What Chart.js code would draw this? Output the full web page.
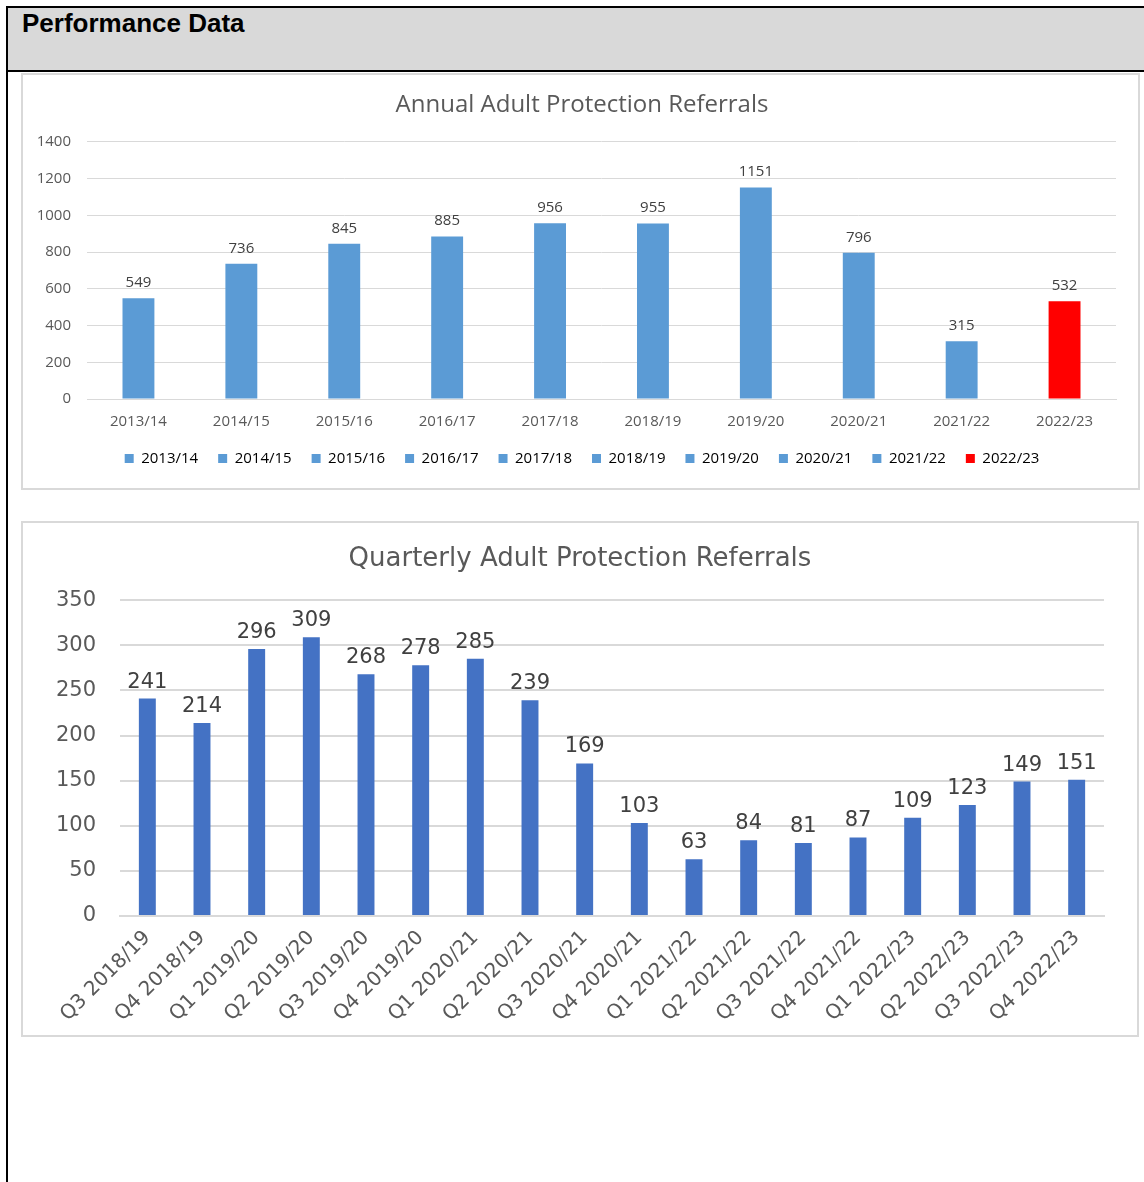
<!DOCTYPE html>
<html>
<head>
<meta charset="utf-8">
<script src="https://cdn.jsdelivr.net/npm/chart.js@4"></script>
<style>
  body { margin: 0; background: #fff; width: 1144px; height: 1182px; overflow: hidden; position: relative; }
  #frame { position: absolute; left: 6px; top: 6px; width: 1150px; height: 1190px; border-left: 2px solid #000; border-top: 2px solid #000; }
  #header { position: absolute; left: 8px; top: 8px; width: 1136px; height: 62px; background: #d9d9d9; border-bottom: 2px solid #000; }
  #header span { position: absolute; left: 14px; top: 0px; font: bold 26px "Liberation Sans", Arial, sans-serif; color: #000; }
  .box { position: absolute; border: 2px solid #d9d9d9; background: #fff; }
  #box1 { left: 21px; top: 73px; width: 1115px; height: 413px; }
  #box2 { left: 21px; top: 521px; width: 1114px; height: 512px; }
  canvas { display: block; }
</style>
</head>
<body>
<div id="frame"></div>
<div id="header"><span>Performance Data</span></div>
<div class="box" id="box1"><canvas id="annual" width="1115" height="413"></canvas></div>
<div class="box" id="box2"><canvas id="quarterly" width="1114" height="512"></canvas></div>
<script>
// annual data
const years = ['2013/14', '2014/15', '2015/16', '2016/17', '2017/18', '2018/19', '2019/20', '2020/21', '2021/22', '2022/23'];
const annualReferrals = [549, 736, 845, 885, 956, 955, 1151, 796, 315, 532];

// quarterly data
const quarters = ['Q3 2018/19', 'Q4 2018/19', 'Q1 2019/20', 'Q2 2019/20', 'Q3 2019/20', 'Q4 2019/20',
  'Q1 2020/21', 'Q2 2020/21', 'Q3 2020/21', 'Q4 2020/21', 'Q1 2021/22', 'Q2 2021/22', 'Q3 2021/22',
  'Q4 2021/22', 'Q1 2022/23', 'Q2 2022/23', 'Q3 2022/23', 'Q4 2022/23'];
const quarterlyReferrals = [241, 214, 296, 309, 268, 278, 285, 239, 169, 103, 63, 84, 81, 87, 109, 123, 149, 151];

const annualColors = years.map(y => y === '2022/23' ? '#ff0000' : '#5b9bd5');

// draws the value above every bar
const valueLabels = {
  id: 'valueLabels',
  afterDatasetsDraw(chart, args, opts) {
    const ctx = chart.ctx;
    ctx.save();
    ctx.font = opts.font;
    ctx.fillStyle = opts.color;
    ctx.textAlign = 'center';
    ctx.textBaseline = 'bottom';
    chart.data.datasets.forEach((ds, i) => {
      chart.getDatasetMeta(i).data.forEach((bar, j) => {
        ctx.fillText(ds.data[j], bar.x, bar.y - opts.offset);
      });
    });
    ctx.restore();
  }
};

new Chart(document.getElementById('annual'), {
  type: 'bar',
  data: {
    labels: years,
    datasets: [{
      label: 'Referrals',
      data: annualReferrals,
      backgroundColor: annualColors,
      barPercentage: 0.31,
      categoryPercentage: 1.0
    }]
  },
  plugins: [valueLabels],
  options: {
    responsive: false,
    animation: false,
    layout: { padding: { left: 12, right: 9, top: 0, bottom: 12 } },
    scales: {
      x: {
        grid: { display: false },
        border: { color: '#d9d9d9', width: 1 },
        ticks: { color: '#595959', font: { family: 'Open Sans', size: 15 }, padding: 6 },
        afterFit(scale) { scale.height -= 6; }
      },
      y: {
        min: 0, max: 1400,
        ticks: {
          stepSize: 200, color: '#595959', font: { family: 'Open Sans', size: 15 }, padding: 16,
          callback: v => String(v)
        },
        grid: { color: '#d9d9d9', drawTicks: false },
        border: { display: false },
        afterFit(scale) { scale.width = 52; }
      },
      // empty right-hand strip so title and legend centre on the whole box
      yRight: {
        position: 'right',
        grid: { display: false },
        border: { display: false },
        ticks: { display: false },
        afterFit(scale) { scale.width = 13; }
      }
    },
    plugins: {
      title: {
        display: true,
        text: 'Annual Adult Protection Referrals',
        color: '#595959',
        font: { family: 'Open Sans', size: 24, weight: 'normal' },
        padding: { top: 16, bottom: 22 }
      },
      legend: {
        position: 'bottom',
        labels: {
          color: '#595959',
          font: { family: 'Open Sans', size: 15 },
          boxWidth: 9, boxHeight: 9, padding: 20,
          generateLabels: (chart) => years.map((y, i) => ({
            text: y, fillStyle: annualColors[i], strokeStyle: annualColors[i], lineWidth: 0, index: i
          }))
        },
        onClick: null
      },
      tooltip: { enabled: false },
      valueLabels: { font: '15px "Open Sans"', color: '#404040', offset: 8 }
    }
  }
});

new Chart(document.getElementById('quarterly'), {
  type: 'bar',
  data: {
    labels: quarters,
    datasets: [{
      label: 'Referrals',
      data: quarterlyReferrals,
      backgroundColor: '#4472c4',
      barPercentage: 0.31,
      categoryPercentage: 1.0
    }]
  },
  plugins: [valueLabels],
  options: {
    responsive: false,
    animation: false,
    layout: { padding: { left: 33, right: 33, top: 0, bottom: 0 } },
    scales: {
      x: {
        grid: { display: false },
        border: { color: '#d9d9d9', width: 2 },
        ticks: {
          color: '#595959', font: { family: 'DejaVu Sans', size: 20 },
          minRotation: 45, maxRotation: 45, padding: 2
        },
        afterFit(scale) { scale.height = 119; }
      },
      y: {
        min: 0, max: 350,
        ticks: { stepSize: 50, color: '#595959', font: { family: 'DejaVu Sans', size: 21 }, padding: 24 },
        grid: { color: '#d9d9d9', drawTicks: false, lineWidth: 2 },
        border: { display: false },
        afterFit(scale) { scale.width = 64; }
      }
    },
    plugins: {
      title: {
        display: true,
        text: 'Quarterly Adult Protection Referrals',
        color: '#595959',
        font: { family: 'DejaVu Sans', size: 26, weight: 'normal' },
        padding: { top: 21, bottom: 25 }
      },
      legend: { display: false },
      tooltip: { enabled: false },
      valueLabels: { font: '21px "DejaVu Sans"', color: '#404040', offset: 6 }
    }
  }
});
</script>
</body>
</html>
